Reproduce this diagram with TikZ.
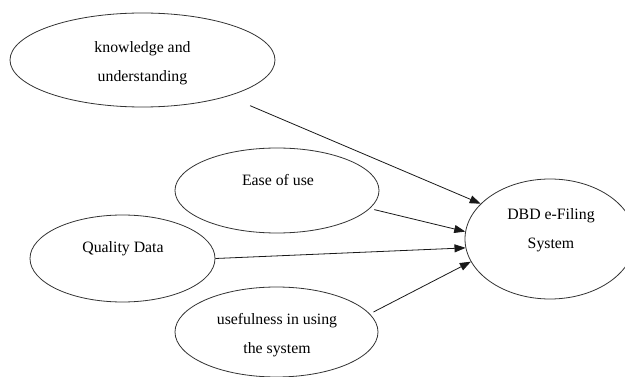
\documentclass[tikz,border=0pt]{standalone}
\usepackage{fontspec}
\setmainfont{Liberation Serif}
\usetikzlibrary{shapes.geometric,arrows.meta}
\begin{document}
\begin{tikzpicture}[x=1pt,y=-1pt,
  oval/.style={draw=black!80, line width=0.8pt, ellipse, inner sep=0pt},
  txt/.style={align=center, font=\fontsize{15.8}{29}\selectfont, inner sep=0pt},
  link/.style={draw=black!90, line width=0.8pt, -{Triangle[length=11pt,width=8pt]}}]
\clip (0,0) rectangle (625,377);
\useasboundingbox (0,0) rectangle (625,377);
\fill[white] (0,0) rectangle (625,377);
% ovals
\node[oval, minimum width=265pt, minimum height=94pt] (k) at (142.5,60) {};
\node[oval, minimum width=204pt, minimum height=85pt] (e) at (277,190.5) {};
\node[oval, minimum width=185pt, minimum height=87pt] (q) at (122.5,258.5) {};
\node[oval, minimum width=203pt, minimum height=90pt] (u) at (276.5,332) {};
\node[oval, minimum width=170pt, minimum height=120pt] (d) at (550,239) {};
% texts
\node[txt] (kt) at (142.5,63) {knowledge and\\understanding};
\node[txt] (et) at (278,180) {Ease of use};
\node[txt] (qt) at (123,248.5) {Quality Data};
\node[txt] (ut) at (277,335) {usefulness in using\\the system};
\node[txt] (dt) at (551,230.5) {DBD e-Filing\\System};
% connectors
\draw[link, shorten <=24pt] (k.-23.5) -- (d.153);
\draw[link, shorten <=4.5pt] (e.-11.5) -- (d.175);
\draw[link] (q.0) -- (d.186);
\draw[link, shorten <=4pt] (u.11) -- (d.196);
\end{tikzpicture}
\end{document}
